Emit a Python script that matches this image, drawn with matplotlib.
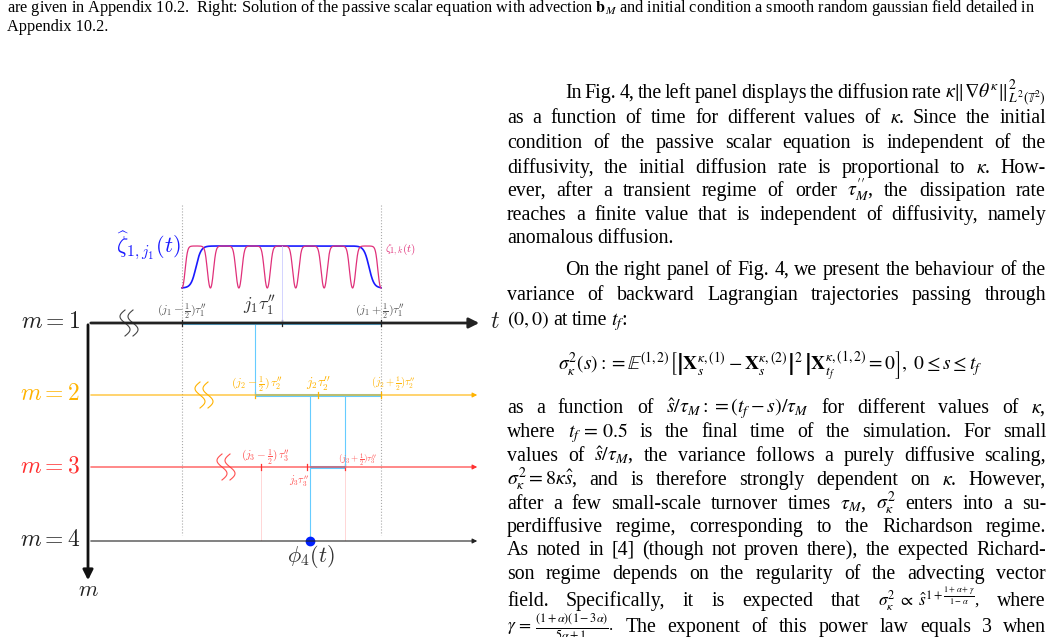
import numpy as np
import matplotlib
matplotlib.use("Agg")
import matplotlib.pyplot as plt

plt.rcParams['font.family'] = ['Liberation Serif', 'DejaVu Serif']
plt.rcParams['mathtext.fontset'] = 'stix'

# ---- diagram data (pixel layout of schematic) ----
levels = ["$m=1$", "$m=2$", "$m=3$", "$m=4$"]
level_y = [323, 395, 467, 541]
level_col = ["#222222", "#ffb300", "#ff3030", "#222222"]
seg_start = [182, 255, 310, None]
seg_end = [381, 381, 345, None]
ticks = [[182, 282, 381], [255, 318, 381], [261, 307, 345], []]
tick_labels = [
    [r"$(j_1-\frac{1}{2})\tau_1''$", r"$j_1\tau_1''$", r"$(j_1+\frac{1}{2})\tau_1''$"],
    [r"$(j_2-\frac{1}{2})\,\tau_2''$", r"$j_2\tau_2''$", r"$(j_2+\frac{1}{2})\tau_2''$"],
    [r"$(j_3-\frac{1}{2})\,\tau_3''$", r"$j_3\tau_3''$", r"$(j_3+\frac{1}{2})\tau_3''$"],
    [],
]
squiggle_x = [125, 200, 222]
n_bumps = 7

caption = [
    r"are given in Appendix 10.2.  Right: Solution of the passive scalar equation with advection $\mathbf{b}_M$ and initial condition a smooth random gaussian field detailed in",
    "Appendix 10.2.",
]

para = [
    (r"In Fig. 4, the left panel displays the diffusion rate $\kappa\|\nabla\theta^\kappa\|^2_{L^2(\mathbb{T}^2)}$", 93, True, True),
    (r"as a function of time for different values of $\kappa$. Since the initial", 118, False, True),
    (r"condition of the passive scalar equation is independent of the", 143, False, True),
    (r"diffusivity, the initial diffusion rate is proportional to $\kappa$. How-", 168, False, True),
    (r"ever, after a transient regime of order $\tau_M''$, the dissipation rate", 191, False, True),
    (r"reaches a finite value that is independent of diffusivity, namely", 215, False, True),
    (r"anomalous diffusion.", 238, False, False),
    (r"On the right panel of Fig. 4, we present the behaviour of the", 270, True, True),
    (r"variance of backward Lagrangian trajectories passing through", 295, False, True),
    (r"$(0,0)$ at time $t_f$:", 320, False, False),
    (r"as a function of $\hat{s}/\tau_M:=(t_f-s)/\tau_M$ for different values of $\kappa$,", 408, False, True),
    (r"where $t_f\,=\,0.5$ is the final time of the simulation. For small", 432, False, True),
    (r"values of $\hat{s}/\tau_M$, the variance follows a purely diffusive scaling,", 456, False, True),
    (r"$\sigma^2_\kappa=8\kappa\hat{s}$, and is therefore strongly dependent on $\kappa$. However,", 480, False, True),
    (r"after a few small-scale turnover times $\tau_M$, $\sigma^2_\kappa$ enters into a su-", 504, False, True),
    (r"perdiffusive regime, corresponding to the Richardson regime.", 527, False, True),
    (r"As noted in [4] (though not proven there), the expected Richard-", 550, False, True),
    (r"son regime depends on the regularity of the advecting vector", 574, False, True),
    (r"field. Specifically, it is expected that $\sigma^2_\kappa\;\propto\;\hat{s}^{1+\frac{1+\alpha+\gamma}{1-\alpha}}$, where", 601, False, True),
    (r"$\gamma\,=\,\frac{(1+\alpha)(1-3\alpha)}{5\alpha+1}$. The exponent of this power law equals 3 when", 627, False, True),
]
equation = r"$\sigma_\kappa^2(s) := \mathbb{E}^{(1,2)}\left[\left|\mathbf{X}_s^{\kappa,(1)}-\mathbf{X}_s^{\kappa,(2)}\right|^2\,\right|\left.\mathbf{X}_{t_f}^{\kappa,(1,2)}=0\right],\ 0\leq s\leq t_f$"

W, H = 1053, 637
fig = plt.figure(figsize=(W / 100, H / 100), dpi=100)
ax = fig.add_axes([0, 0, 1, 1])
ax.set_xlim(0, W)
ax.set_ylim(H, 0)
ax.axis('off')

# caption
ax.text(7, 12, caption[0], fontsize=11.7, va='baseline')
ax.text(7, 31, caption[1], fontsize=11.7, va='baseline')

CM = dict(math_fontfamily='cm')
# axes of diagram
ax.annotate("", xy=(482, level_y[0]), xytext=(88, level_y[0]),
            arrowprops=dict(arrowstyle="-|>", color="#222222", lw=2, mutation_scale=15))
ax.annotate("", xy=(88, 583), xytext=(88, level_y[0] - 1),
            arrowprops=dict(arrowstyle="-|>", color="#111111", lw=2, mutation_scale=15))
ax.text(490, level_y[0], "$t$", fontsize=17, va='center', ha='left', color="#222222", **CM)
ax.text(88, 592, "$m$", fontsize=16, va='center', ha='center', color="#222222", **CM)
for i in range(1, 4):
    ax.annotate("", xy=(480, level_y[i]), xytext=(88, level_y[i]),
                arrowprops=dict(arrowstyle="-|>", color=level_col[i], lw=0.8, mutation_scale=7))
for i, (lab, y) in enumerate(zip(levels, level_y)):
    ax.text(80, y, lab, fontsize=17, va='center', ha='right', color=level_col[i], **CM)

# dotted guides
for x in [182, 381]:
    ax.plot([x, x], [205, 535], ls=':', color='#aaaaaa', lw=0.8)
for x in [261, 345]:
    ax.plot([x, x], [467, 540], color='#ffd0d0', lw=0.6)

# segments and ticks
cyan = "#66ccff"
for i in range(3):
    ax.plot([seg_start[i], seg_end[i]], [level_y[i], level_y[i]], color=cyan, lw=2.2, solid_capstyle='butt')
    for t in ticks[i]:
        ax.plot([t, t], [level_y[i] - 3, level_y[i] + 3], color=level_col[i], lw=0.9)
ax.plot([255, 255], [level_y[0], level_y[1]], color=cyan, lw=0.8)
ax.plot([310, 310], [level_y[1], level_y[3]], color=cyan, lw=0.8)
ax.plot([345, 345], [level_y[1], level_y[2]], color=cyan, lw=0.8)

# tick labels
lc = ["#555555", "#ffb300", "#ff5050"]
ax.text(182, 311, tick_labels[0][0], fontsize=8.5, ha='center', va='center', color=lc[0], **CM)
ax.text(259, 305, tick_labels[0][1], fontsize=13, ha='center', va='center', color="#333333", **CM)
ax.text(380, 311, tick_labels[0][2], fontsize=8.5, ha='center', va='center', color=lc[0], **CM)
ax.text(257, 384, tick_labels[1][0], fontsize=8.5, ha='center', va='center', color=lc[1], **CM)
ax.text(318, 384, tick_labels[1][1], fontsize=9.5, ha='center', va='center', color=lc[1], **CM)
ax.text(393, 384, tick_labels[1][2], fontsize=7.5, ha='center', va='center', color=lc[1], **CM)
ax.text(265, 457, tick_labels[2][0], fontsize=8, ha='center', va='center', color=lc[2], **CM)
ax.text(299, 481, tick_labels[2][1], fontsize=7.5, ha='center', va='center', color=lc[2], **CM)
ax.text(357, 460, tick_labels[2][2], fontsize=6.5, ha='center', va='center', color=lc[2], **CM)

# squiggles
yy = np.linspace(-13, 13, 60)
for sx, y0, col in zip(squiggle_x, level_y[:3], ["#444444", "#ffb300", "#ff5050"]):
    for dx in [0, 8]:
        ax.plot(sx + dx + 5 * np.sin(np.pi * yy / 13), y0 + yy, color=col, lw=0.8)

# phi_4 point
ax.plot([310], [level_y[3]], 'o', color='#0020ff', ms=6)
ax.text(311, 556, r"$\phi_4(t)$", fontsize=16, ha='center', va='center', color="#333333", **CM)

# curves
x = np.linspace(182, 381, 800)
top, bot = 246, 288
blue = bot - (bot - top) * 0.5 * (np.tanh((x - 196) / 5) - np.tanh((x - 369) / 5))
ax.plot(x, blue, color='#1a1aff', lw=1.2)
ph = (x - 182) / (381 - 182) * n_bumps * 2 * np.pi
g = 0.5 - 0.5 * np.cos(ph)
mag = bot - (bot - top) * np.tanh(4 * g) / np.tanh(4)
ax.plot(x, mag, color='#e0307a', lw=0.9)
ax.plot([282, 282], [top, level_y[0]], color='#ccccff', lw=0.6)
ax.text(148, 246, r"$\widehat{\zeta}_{1,j_1}(t)$", fontsize=16, ha='center', va='center', color='#1a1aff', **CM)
ax.text(385, 250, r"$\zeta_{1,k}(t)$", fontsize=8, ha='left', va='center', color='#e0307a', **CM)

# right text with justification
fig.canvas.draw()
r = fig.canvas.get_renderer()
L, R = 507, 1046
FS = 14.3
for s, y, indent, just in para:
    x0 = L + (58 if indent else 0)
    words = s.split(' ')
    arts = [ax.text(0, y + 5, w, fontsize=(12.5 if '\\frac' in w else FS), va='baseline', ha='left') for w in words]
    widths = [a.get_window_extent(r).width for a in arts]
    space = 4.0
    if just and len(words) > 1:
        space = (R - x0 - sum(widths)) / (len(words) - 1)
    cx = x0
    for a, wd in zip(arts, widths):
        a.set_x(cx)
        cx += wd + space
ax.text(770, 366, equation, fontsize=14, ha='center', va='center')

fig.savefig("out.png", dpi=100)
